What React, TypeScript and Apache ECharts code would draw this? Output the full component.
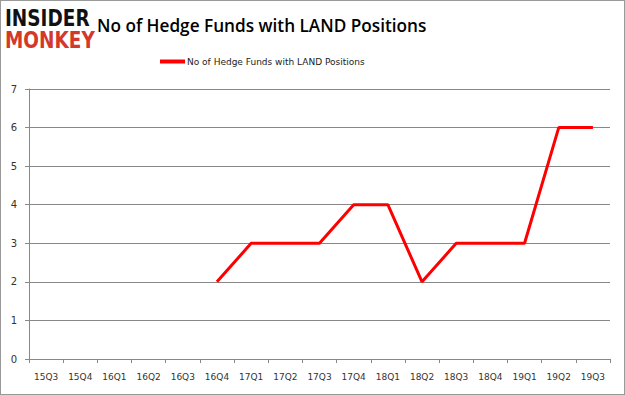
import React, { useEffect, useRef } from "react";
import * as echarts from "echarts";

const categories = ["15Q3","15Q4","16Q1","16Q2","16Q3","16Q4","17Q1","17Q2","17Q3","17Q4","18Q1","18Q2","18Q3","18Q4","19Q1","19Q2","19Q3"];
const hedgeFunds: (number | null)[] = [null,null,null,null,null,2,3,3,3,4,4,2,3,3,3,6,6];
const seriesName = "No of Hedge Funds with LAND Positions";
const titleText = "No of Hedge Funds with LAND Positions";

export default function App() {
  const ref = useRef<HTMLDivElement>(null);
  useEffect(() => {
    if (!ref.current) return;
    const chart = echarts.init(ref.current, null, { renderer: "svg" });
    chart.setOption({
      animation: false,
      backgroundColor: "#fff",
      title: {
        text: titleText,
        left: 91,
        top: 11,
        textStyle: { fontFamily: "Open Sans", fontWeight: 600, fontSize: 17.2, color: "#000" },
      },
      legend: {
        top: 51,
        left: 154,
        itemWidth: 25,
        itemHeight: 4,
        itemGap: 2,
        icon: "rect",
        textStyle: { fontFamily: "DejaVu Sans", fontSize: 9, color: "#222", padding: [0, 0, 0, -3] },
        data: [seriesName],
      },
      graphic: [
        {
          type: "group",
          left: 4,
          top: 5,
          scaleX: 0.84,
          scaleY: 1.06,
          children: [
            {
              type: "text",
              x: 0,
              y: 0,
              style: { text: "INSIDER", fontFamily: "DejaVu Sans", fontWeight: 900, fontSize: 22, fill: "#111" },
            },
            {
              type: "text",
              x: 0,
              y: 21,
              style: { text: "MONKEY", fontFamily: "DejaVu Sans", fontWeight: 900, fontSize: 22, fill: "#d4382b" },
            },
          ],
        },
      ],
      grid: { left: 28, right: 14, top: 88, bottom: 35, containLabel: false },
      xAxis: {
        type: "category",
        data: categories,
        boundaryGap: true,
        axisLine: { lineStyle: { color: "#888" } },
        axisTick: { show: true, alignWithLabel: false, interval: 0, length: 4, lineStyle: { color: "#888" } },
        axisLabel: { interval: 0, fontFamily: "DejaVu Sans", fontSize: 9, color: "#333", margin: 13 },
      },
      yAxis: {
        type: "value",
        min: 0,
        max: 7,
        interval: 1,
        axisLine: { show: true, lineStyle: { color: "#888" } },
        axisTick: { show: true, length: 4, lineStyle: { color: "#888" } },
        splitLine: { lineStyle: { color: "#888" } },
        axisLabel: { fontFamily: "DejaVu Sans", fontSize: 10, color: "#333", margin: 12 },
      },
      series: [
        {
          name: seriesName,
          type: "line",
          data: hedgeFunds,
          symbol: "none",
          lineStyle: { color: "#ff0000", width: 3 },
          itemStyle: { color: "#ff0000" },
        },
      ],
    });
    return () => chart.dispose();
  }, []);
  return (
    <div
      style={{
        position: "fixed",
        left: 0,
        top: 0,
        width: 625,
        height: 395,
        boxSizing: "border-box",
        border: "1px solid #999",
        background: "#fff",
      }}
    >
      <div ref={ref} style={{ width: 623, height: 393 }} />
    </div>
  );
}
